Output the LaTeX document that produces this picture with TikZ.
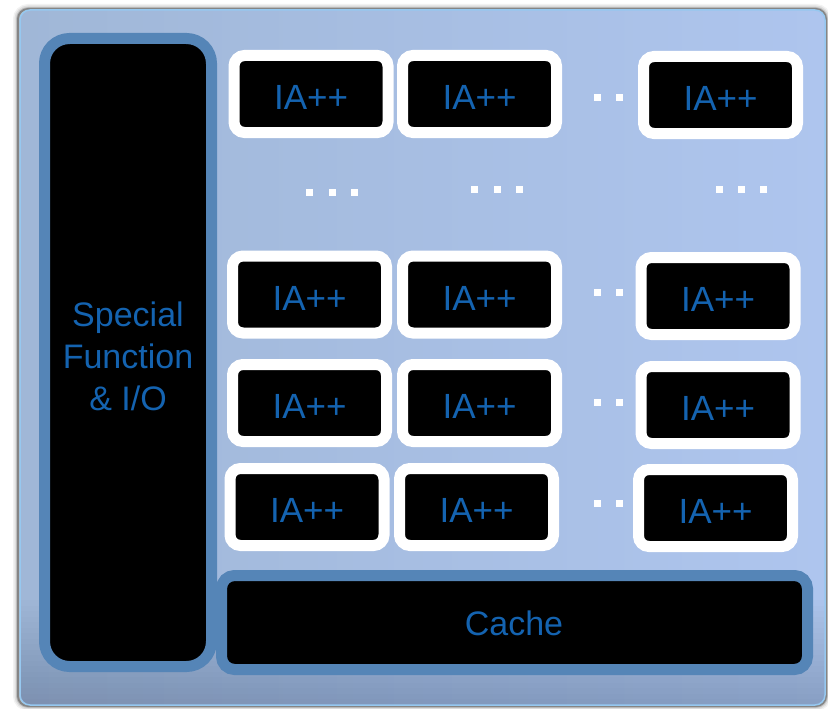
\documentclass[tikz,border=0pt]{standalone}
\usepackage{fontspec}
\setmainfont{Liberation Sans}
\definecolor{panelL}{RGB}{160,183,215}
\definecolor{panelR}{RGB}{174,197,238}
\definecolor{panelEdge}{RGB}{150,200,240}
\definecolor{rimblue}{RGB}{85,133,183}
\definecolor{txtblue}{RGB}{20,99,176}
\definecolor{vign}{RGB}{80,95,125}
\tikzset{
  iabox/.style={fill=black, draw=white, line width=11pt, rounded corners=10.5pt,
    minimum width=154pt, minimum height=77pt, inner sep=0pt,
    text=txtblue, font=\fontsize{35}{40}\selectfont, text height=31pt, text depth=0pt},
  bigbox/.style={fill=black, draw=rimblue, line width=11pt, inner sep=0pt},
  bigtext/.style={text=txtblue, font=\fontsize{34}{42}\selectfont, align=center, inner sep=0pt},
  dotsq/.style={fill=white, minimum size=7pt, inner sep=0pt, draw=none}
}
\begin{document}
\begin{tikzpicture}[x=1pt,y=-1pt]
\useasboundingbox (0,0) rectangle (828,709);
% shadow
\foreach \w/\o in {10/0.05,7/0.08,4/0.15,2/0.3}{
  \draw[black, line width=\w pt, opacity=\o, rounded corners=10pt] (18,9) rectangle (826,706);
}
% panel
\shade[left color=panelL, right color=panelR, rounded corners=10pt] (20,10) rectangle (825,705);
\begin{scope}
\clip[rounded corners=10pt] (20,10) rectangle (825,705);
\foreach \i in {0,...,19}{
  \fill[vign, opacity=0.02] (20,{600+\i*5.5}) rectangle (825,706);
}
\end{scope}
\draw[panelEdge, line width=1.5pt, rounded corners=10pt] (20,10) rectangle (825,705);

% special function box
\node[bigbox, rounded corners=25pt, minimum width=167pt, minimum height=628pt] (sf) at (128,352.5) {};
\node[bigtext] (sftext) at (128,356) {Special\\Function\\\& I/O};
% cache box
\node[bigbox, rounded corners=13pt, minimum width=586pt, minimum height=94pt] (cache) at (514.5,622.5) {};
\node[bigtext] (cachetext) at (514,623.5) {Cache};

% IA++ boxes
\node[iabox] (a11) at (311,94) {IA++};
\node[iabox] (a12) at (479.5,94) {IA++};
\node[iabox] (a13) at (720.5,95) {IA++};
\node[iabox] (a21) at (309.5,294.5) {IA++};
\node[iabox] (a22) at (479.5,294.5) {IA++};
\node[iabox] (a23) at (718,296) {IA++};
\node[iabox] (a31) at (309.5,403) {IA++};
\node[iabox] (a32) at (479.5,403) {IA++};
\node[iabox] (a33) at (718,405) {IA++};
\node[iabox] (a41) at (307,507) {IA++};
\node[iabox] (a42) at (476.5,507) {IA++};
\node[iabox] (a43) at (715.5,508) {IA++};

% horizontal dots
\foreach \y [count=\i] in {98,292,402,503}{
  \node[dotsq] (hd\i a) at (597,\y) {};
  \node[dotsq] (hd\i b) at (619,\y) {};
}
% vertical gap dots
\foreach \x [count=\i] in {309,332,354}{ \node[dotsq] (va\i) at (\x,192) {}; }
\foreach \x [count=\i] in {474,497,519}{ \node[dotsq] (vb\i) at (\x,189) {}; }
\foreach \x [count=\i] in {719,741,763}{ \node[dotsq] (vc\i) at (\x,189) {}; }
\end{tikzpicture}
\end{document}
